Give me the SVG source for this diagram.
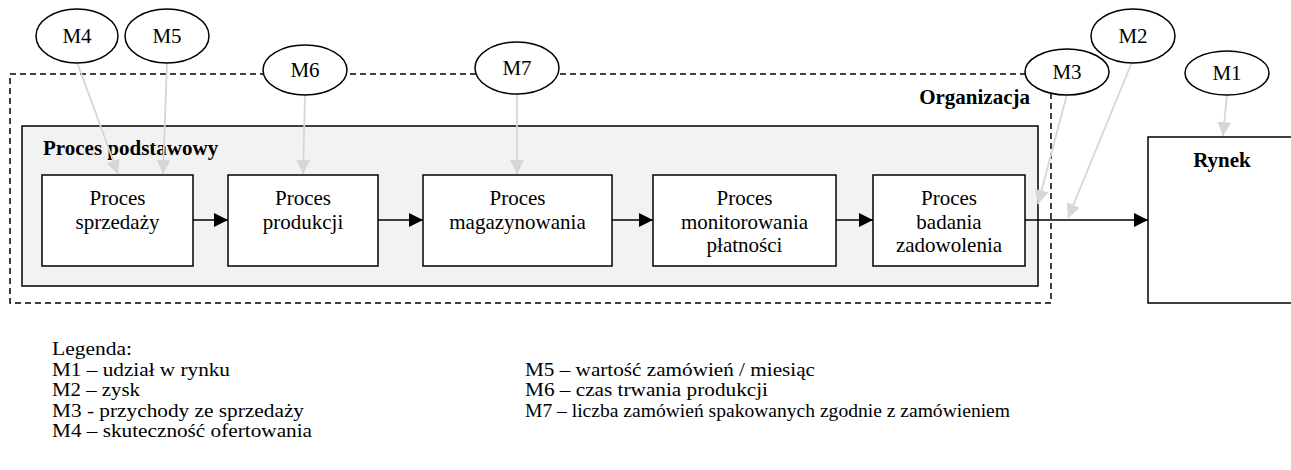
<svg xmlns="http://www.w3.org/2000/svg" width="1291" height="470" viewBox="0 0 1291 470">
<style>
text{font-family:"Liberation Serif","Times New Roman",serif;font-size:21px;fill:#000}
.b{font-weight:bold}
.c{text-anchor:middle}
.lg{font-size:18.5px}
.box{fill:#fff;stroke:#000;stroke-width:1.5}
.ell{fill:#fff;stroke:#000;stroke-width:1.5}
.blk{stroke:#000;stroke-width:1.5;fill:none}
.gry{stroke:#d6d6d6;stroke-width:1.8;fill:none}
</style>
<defs>
<marker id="ab" markerUnits="userSpaceOnUse" markerWidth="16" markerHeight="14" refX="14" refY="7" orient="auto"><path d="M0,0 L14,7 L0,14 z" fill="#000"/></marker>
<marker id="ag" markerUnits="userSpaceOnUse" markerWidth="16" markerHeight="14" refX="14" refY="7" orient="auto"><path d="M0,0 L14,7 L0,14 z" fill="#d6d6d6"/></marker>
</defs>
<g id="organizacja">
<rect x="10" y="74" width="1041" height="229" fill="none" stroke="#000" stroke-width="1.5" stroke-dasharray="6 4"/>
<text class="b" x="1030" y="104" text-anchor="end">Organizacja</text>
</g>
<g id="proces-podstawowy">
<rect x="22" y="126" width="1016" height="160" fill="#f2f2f2" stroke="#000" stroke-width="1.5"/>
<text class="b" x="43" y="155">Proces podstawowy</text>
</g>
<g id="p1"><rect class="box" x="42" y="175" width="151" height="91"/><text class="c" x="117.5" y="205">Proces</text><text class="c" x="117.5" y="229">sprzedaży</text></g>
<g id="p2"><rect class="box" x="228" y="175" width="150" height="91"/><text class="c" x="303" y="205">Proces</text><text class="c" x="303" y="229">produkcji</text></g>
<g id="p3"><rect class="box" x="423" y="175" width="189" height="91"/><text class="c" x="517.5" y="205">Proces</text><text class="c" x="517.5" y="229">magazynowania</text></g>
<g id="p4"><rect class="box" x="653" y="175" width="183" height="91"/><text class="c" x="744.5" y="205">Proces</text><text class="c" x="744.5" y="229">monitorowania</text><text class="c" x="744.5" y="252">płatności</text></g>
<g id="p5"><rect class="box" x="873" y="175" width="152" height="91"/><text class="c" x="949" y="205">Proces</text><text class="c" x="949" y="229">badania</text><text class="c" x="949" y="252">zadowolenia</text></g>
<g id="rynek"><rect class="box" x="1148" y="137" width="160" height="166"/><text class="b c" x="1222" y="167">Rynek</text></g>
<g id="connectors">
<line class="blk" x1="193" y1="220" x2="228" y2="220" marker-end="url(#ab)"/>
<line class="blk" x1="378" y1="220" x2="423" y2="220" marker-end="url(#ab)"/>
<line class="blk" x1="612" y1="220" x2="653" y2="220" marker-end="url(#ab)"/>
<line class="blk" x1="836" y1="220" x2="873" y2="220" marker-end="url(#ab)"/>
<line class="blk" x1="1025" y1="220" x2="1148" y2="220" marker-end="url(#ab)"/>
<line class="gry" x1="77" y1="62" x2="118" y2="174" marker-end="url(#ag)"/>
<line class="gry" x1="167" y1="62" x2="163" y2="174" marker-end="url(#ag)"/>
<line class="gry" x1="305" y1="94" x2="303" y2="174" marker-end="url(#ag)"/>
<line class="gry" x1="517" y1="94" x2="517" y2="174" marker-end="url(#ag)"/>
<line class="gry" x1="1067" y1="94" x2="1038" y2="204" marker-end="url(#ag)"/>
<line class="gry" x1="1132" y1="62" x2="1068" y2="218" marker-end="url(#ag)"/>
<line class="gry" x1="1227" y1="94" x2="1223" y2="136" marker-end="url(#ag)"/>
</g>
<g id="M4"><ellipse class="ell" cx="77" cy="36" rx="41" ry="27"/><text class="c" x="77" y="43">M4</text></g>
<g id="M5"><ellipse class="ell" cx="167" cy="36" rx="42" ry="27"/><text class="c" x="167" y="43">M5</text></g>
<g id="M6"><ellipse class="ell" cx="305" cy="70" rx="42" ry="25"/><text class="c" x="305" y="77">M6</text></g>
<g id="M7"><ellipse class="ell" cx="517" cy="68" rx="42" ry="26"/><text class="c" x="517" y="75">M7</text></g>
<g id="M2"><ellipse class="ell" cx="1133" cy="36" rx="42" ry="27"/><text class="c" x="1133" y="43">M2</text></g>
<g id="M3"><ellipse class="ell" cx="1067" cy="72" rx="42" ry="23"/><text class="c" x="1067" y="79">M3</text></g>
<g id="M1"><ellipse class="ell" cx="1227" cy="73" rx="42" ry="22"/><text class="c" x="1227" y="80">M1</text></g>
<g id="legenda">
<text class="lg" x="52" y="355" textLength="80" lengthAdjust="spacingAndGlyphs">Legenda:</text>
<text class="lg" x="52" y="375.5" textLength="178" lengthAdjust="spacingAndGlyphs">M1 – udział w rynku</text>
<text class="lg" x="52" y="396" textLength="88" lengthAdjust="spacingAndGlyphs">M2 – zysk</text>
<text class="lg" x="52" y="416.5" textLength="252" lengthAdjust="spacingAndGlyphs">M3 - przychody ze sprzedaży</text>
<text class="lg" x="52" y="437" textLength="260" lengthAdjust="spacingAndGlyphs">M4 – skuteczność ofertowania</text>
<text class="lg" x="525" y="375.5" textLength="290" lengthAdjust="spacingAndGlyphs">M5 – wartość zamówień / miesiąc</text>
<text class="lg" x="525" y="396" textLength="243" lengthAdjust="spacingAndGlyphs">M6 – czas trwania produkcji</text>
<text class="lg" x="525" y="416.5" textLength="485" lengthAdjust="spacingAndGlyphs">M7 – liczba zamówień spakowanych zgodnie z zamówieniem</text>
</g>
</svg>
